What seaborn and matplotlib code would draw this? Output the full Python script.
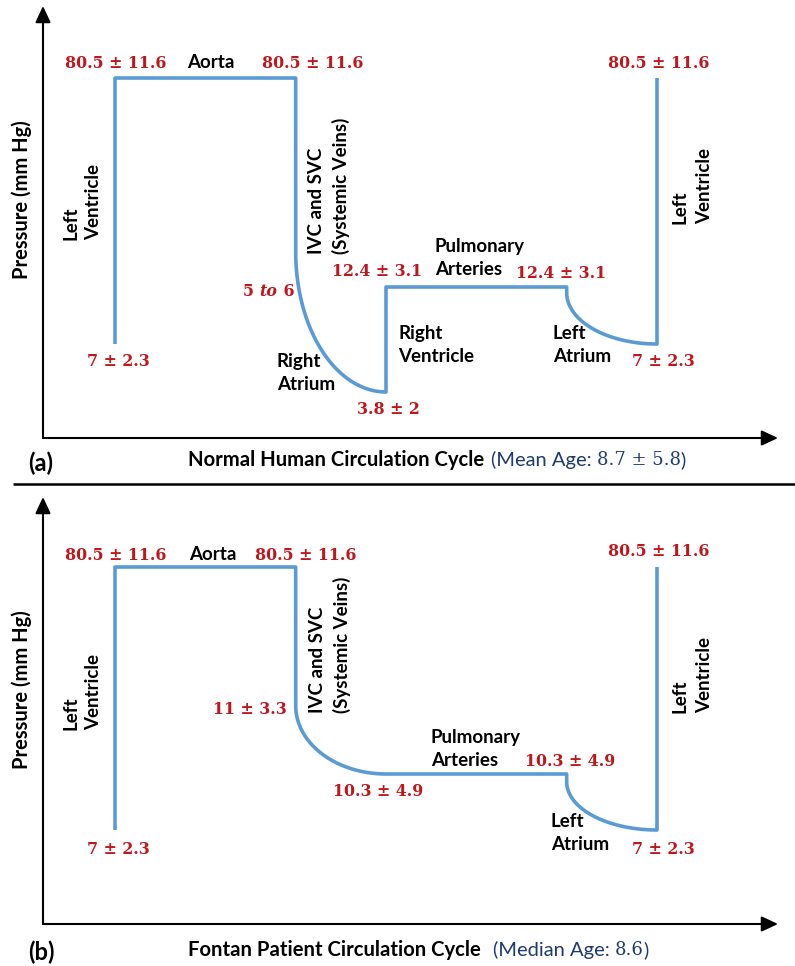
import numpy as np
import pandas as pd
import matplotlib
matplotlib.use("Agg")
import matplotlib.pyplot as plt
import seaborn as sns

# ---------------------------------------------------------------------------
# Pressures (mm Hg) along one circulation cycle:
# order = LV end-diastole, aorta, right atrium / veins, pulmonary arteries, left atrium
cycle_stage = [0, 2, 3, 5, 6]

normal_mean = [7.0, 80.5, 3.8, 12.4, 7.0]
normal_sd = [2.3, 11.6, 2.0, 3.1, 2.3]
normal_vein_text = "5 to 6"

fontan_mean = [7.0, 80.5, 10.3, 10.3, 7.0]
fontan_sd = [2.3, 11.6, 4.9, 4.9, 2.3]
fontan_vein = [11.0, 3.3]

normal_age = "Mean Age: ", "8.7 ± 5.8"
fontan_age = "Median Age: ", "8.6"

# ---------------------------------------------------------------------------
W, H = 795, 966
sns.set_theme(style="white")
plt.rcParams["font.family"] = ["Lato", "DejaVu Sans"]

BLUE = "#5B9BD5"
RED = "#C0161C"
NAVY = "#1F3A6E"

fig = plt.figure(figsize=(W / 100, H / 100), dpi=100)

# overlay in pixel units for arrows and annotations
ov = fig.add_axes([0, 0, 1, 1])
ov.set_xlim(0, W)
ov.set_ylim(H, 0)
ov.axis("off")

lab = dict(family=["Lato", "DejaVu Sans"], fontweight="bold", fontsize=13.5, color="black")
num = dict(family=["DejaVu Serif"], fontweight="bold", fontsize=11.4, color=RED)
age_txt = dict(family=["Lato"], fontsize=14.5, color=NAVY)
age_num = dict(family=["DejaVu Serif"], fontsize=13, color=NAVY)


def fmt(m, s):
    return f"{m:g} ± {s:g}"


def arrow(x0, y0, x1, y1):
    ov.annotate("", xy=(x1, y1), xytext=(x0, y0),
                arrowprops=dict(arrowstyle="-|>,head_length=0.45,head_width=0.21",
                                mutation_scale=22, lw=1.5, color="black",
                                shrinkA=0, shrinkB=0))


def chain(parts, prev=None, x=0, y=0, gap=0):
    for s, style in parts:
        if prev is None:
            prev = ov.text(x, y, s, ha="left", va="center", **style)
        else:
            prev = ov.annotate(s, xy=(1, 0.5), xycoords=prev, xytext=(gap, 0),
                               textcoords="offset pixels", ha="left", va="center", **style)
            gap = 0
    return prev


def cycle_path(means, stage, vein_frac, la_frac, fwd, inv, n=80):
    lv, ao, ra, pa, la = means
    s0, s1, s2, s3, s4 = stage
    t = np.linspace(np.pi, 1.5 * np.pi, n)
    xs = [s0, s0, s1]
    hs = [fwd(lv), fwd(ao), fwd(ao)]
    # systemic veins: drop then quarter ellipse into the right atrium
    h_low = fwd(ra)
    h_bend = h_low + vein_frac * (fwd(ao) - h_low)
    xs += list(s2 + (s2 - s1) * np.cos(t))
    hs += list(h_bend + (h_bend - h_low) * np.sin(t))
    # right ventricle and pulmonary arteries
    xs += [s2, s3]
    hs += [fwd(pa), fwd(pa)]
    # left atrium
    h_la = fwd(la)
    h_start = fwd(pa) - la_frac * (fwd(pa) - h_la)
    xs += list(s4 + (s4 - s3) * np.cos(t))
    hs += list(h_start + (h_start - h_la) * np.sin(t))
    # left ventricle contraction
    xs += [s4]
    hs += [fwd(ao)]
    return np.array(xs), inv(np.array(hs))


def panel(means, anchor_p, anchor_y, vein_frac, la_frac):
    # schematic pressure axis: piecewise mapping of the listed pressures
    ap = np.array(anchor_p, float)
    ah = -np.array(anchor_y, float)
    fwd = lambda p: np.interp(p, ap, ah)
    inv = lambda h: np.interp(h, ah, ap)
    left, right = 115, 657
    top, bottom = anchor_y[-1], anchor_y[0]
    ax = fig.add_axes([left / W, (H - bottom) / H, (right - left) / W, (bottom - top) / H])
    ax.patch.set_alpha(0)
    ax.set_yscale("function", functions=(fwd, inv))
    ax.set_xlim(cycle_stage[0], cycle_stage[-1])
    ax.set_ylim(min(anchor_p), max(anchor_p))
    xs, ps = cycle_path(means, cycle_stage, vein_frac, la_frac, fwd, inv)
    df = pd.DataFrame({"stage": xs, "pressure": ps})
    sns.lineplot(data=df, x="stage", y="pressure", sort=False, estimator=None,
                 color=BLUE, linewidth=2.6, ax=ax)
    for ln in ax.lines:
        ln.set_clip_on(False)
        ln.set_solid_joinstyle("round")
        ln.set_solid_capstyle("butt")
    ax.axis("off")
    return ax


def two_line(x, y, s, ls=1.45):
    ov.text(x, y, s, ha="left", va="center", linespacing=ls, **lab)


def rotated(x, y_bottom, s, ls=1.5):
    ov.text(x, y_bottom, s, rotation=90, ha="center", va="bottom",
            multialignment="left", linespacing=ls, **lab)


# ---------------- panel (a): normal circulation ----------------
panel(normal_mean, [3.8, 7.0, 12.4, 80.5], [392, 344, 287, 78], 0.446, 0.10)

arrow(43, 438, 43, 6)
arrow(43, 438, 778, 438)
ov.text(22, 200, "Pressure (mm Hg)", rotation=90, ha="center", va="center",
        **{**lab, "fontsize": 14.5})

ov.text(116, 63, fmt(normal_mean[1], normal_sd[1]), ha="center", va="center", **num)
ov.text(211, 63, "Aorta", ha="center", va="center", **lab)
ov.text(313, 63, fmt(normal_mean[1], normal_sd[1]), ha="center", va="center", **num)
ov.text(659, 63, fmt(normal_mean[1], normal_sd[1]), ha="center", va="center", **num)

rotated(82, 240, "Left\nVentricle", ls=1.4)
rotated(329, 254, "IVC and SVC\n(Systemic Veins)", ls=1.5)
rotated(692, 224, "Left\nVentricle", ls=1.55)

v5, vto, v6 = normal_vein_text.split(" ")
chain([(v5 + " ", num), (vto, {**num, "fontstyle": "italic"}), (" " + v6, num)], x=243, y=291)

two_line(277, 373, "Right\nAtrium")
ov.text(388, 410, fmt(normal_mean[2], normal_sd[2]), ha="center", va="center", **num)
ov.text(377, 272, fmt(normal_mean[3], normal_sd[3]), ha="center", va="center", **num)
ov.text(561, 274, fmt(normal_mean[3], normal_sd[3]), ha="center", va="center", **num)
two_line(435, 258, "Pulmonary\nArteries")
two_line(398, 345, "Right\nVentricle")
two_line(553, 345, "Left\nAtrium")
ov.text(118, 361, fmt(normal_mean[0], normal_sd[0]), ha="center", va="center", **num)
ov.text(663, 361, fmt(normal_mean[4], normal_sd[4]), ha="center", va="center", **num)

title_a = ov.text(188, 460, "Normal Human Circulation Cycle", ha="left", va="center",
                  **{**lab, "fontsize": 14.6})
chain([("(" + normal_age[0], age_txt), (normal_age[1], age_num), (")", age_txt)],
      prev=title_a, gap=7)
ov.text(41, 463, "(a)", ha="center", va="center", **{**lab, "fontsize": 17})

# separator
ov.plot([13, W], [484, 484], color="black", lw=1.8, solid_capstyle="butt")

# ---------------- panel (b): Fontan circulation ----------------
panel(fontan_mean, [7.0, 10.3, 80.5], [830, 774, 567], 0.33, 0.14)

arrow(43, 924, 43, 497)
arrow(43, 924, 778, 924)
ov.text(22, 690, "Pressure (mm Hg)", rotation=90, ha="center", va="center",
        **{**lab, "fontsize": 14.5})

ov.text(116, 555, fmt(fontan_mean[1], fontan_sd[1]), ha="center", va="center", **num)
ov.text(213, 555, "Aorta", ha="center", va="center", **lab)
ov.text(306, 555, fmt(fontan_mean[1], fontan_sd[1]), ha="center", va="center", **num)
ov.text(659, 552, fmt(fontan_mean[1], fontan_sd[1]), ha="center", va="center", **num)

rotated(82, 730, "Left\nVentricle", ls=1.4)
rotated(330, 713, "IVC and SVC\n(Systemic Veins)", ls=1.5)
rotated(692, 713, "Left\nVentricle", ls=1.55)

ov.text(250, 709, fmt(*fontan_vein), ha="center", va="center", **num)
ov.text(378, 791, fmt(fontan_mean[2], fontan_sd[2]), ha="center", va="center", **num)
ov.text(570, 762, fmt(fontan_mean[3], fontan_sd[3]), ha="center", va="center", **num)
two_line(431, 749, "Pulmonary\nArteries")
two_line(551, 833, "Left\nAtrium")
ov.text(118, 849, fmt(fontan_mean[0], fontan_sd[0]), ha="center", va="center", **num)
ov.text(663, 849, fmt(fontan_mean[4], fontan_sd[4]), ha="center", va="center", **num)

title_b = ov.text(188, 950, "Fontan Patient Circulation Cycle", ha="left", va="center",
                  **{**lab, "fontsize": 14.6})
chain([("(" + fontan_age[0], age_txt), (fontan_age[1], age_num), (")", age_txt)],
      prev=title_b, gap=12)
ov.text(41, 952, "(b)", ha="center", va="center", **{**lab, "fontsize": 17})

fig.savefig("out.png", dpi=100)
